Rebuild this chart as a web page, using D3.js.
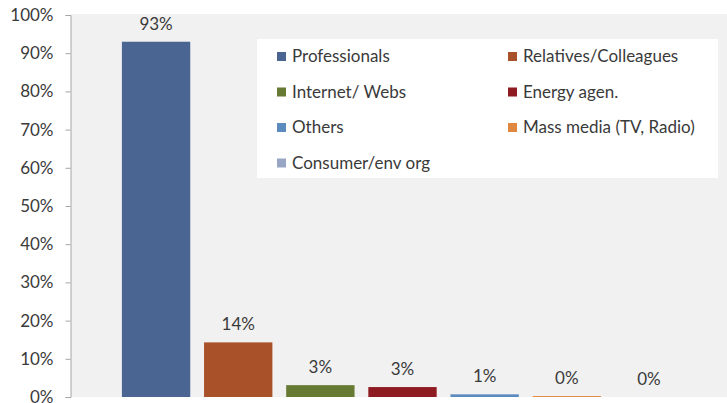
<!DOCTYPE html>
<html>
<head>
<meta charset="utf-8">
<script src="https://cdn.jsdelivr.net/npm/d3@7"></script>
<style>
  body { margin: 0; background: #fff; }
  svg { display: block; font-family: Lato, "Liberation Sans", sans-serif; }
</style>
</head>
<body>
<svg width="727" height="403"></svg>
<script>
// sources of information, share of respondents (%)
const categories = ['Professionals', 'Relatives/Colleagues', 'Internet/ Webs', 'Energy agen.', 'Others', 'Mass media (TV, Radio)', 'Consumer/env org']
const values = [93, 14.3, 3.1, 2.6, 0.7, 0.25, 0]
const colors = ['#4a6591', '#a9522a', '#677a33', '#8e1a22', '#5b8bbf', '#e0883f', '#97a6c4']
const yTicks = [0, 10, 20, 30, 40, 50, 60, 70, 80, 90, 100]

const svg = d3.select('svg')

// y=0 at top so the range goes from bottom to top
const yScale = d3.scaleLinear().domain([0, 100]).range([397, 15])
const xScale = d3.scaleBand().domain(categories).range([115, 690]).paddingInner(0.168).paddingOuter(0.084)

// plot background
svg.append('rect')
  .attr('x', 71).attr('y', 14)
  .attr('width', 727 - 71).attr('height', 397 - 14)
  .attr('fill', '#f1f1f1')

// y axis
const yAxis = d3.axisLeft(yScale)
  .tickValues(yTicks)
  .tickFormat(d => d + '%')
  .tickSize(5)
  .tickPadding(12)

const axisG = svg.append('g')
  .attr('transform', 'translate(70.5,0)')
  .call(yAxis)
axisG.select('.domain').attr('stroke', '#a6a6a6')
axisG.selectAll('.tick line').attr('stroke', '#a6a6a6')
axisG.selectAll('.tick text')
  .attr('fill', '#3a3a3a')
  .attr('font-size', 17)
  .attr('font-family', 'Lato, sans-serif')

// bars
svg.selectAll('.bar')
  .data(values)
  .enter()
  .append('rect')
  .classed('bar', true)
  .attr('x', (d, i) => xScale(categories[i]))
  .attr('y', d => yScale(d))
  .attr('width', xScale.bandwidth())
  .attr('height', d => yScale(0) - yScale(d))
  .attr('fill', (d, i) => colors[i])

// data labels
svg.selectAll('.lbl')
  .data(values)
  .enter()
  .append('text')
  .classed('lbl', true)
  .attr('x', (d, i) => xScale(categories[i]) + xScale.bandwidth() / 2)
  .attr('y', d => yScale(d) - 12)
  .attr('text-anchor', 'middle')
  .attr('font-size', 17)
  .attr('fill', '#3a3a3a')
  .text(d => Math.round(d) + '%')

// legend
const legend = svg.append('g')
legend.append('rect')
  .attr('x', 257).attr('y', 39)
  .attr('width', 461).attr('height', 139)
  .attr('fill', '#fff')

const items = legend.selectAll('.item')
  .data(categories)
  .enter()
  .append('g')
  .classed('item', true)
  .attr('transform', (d, i) => `translate(${i % 2 === 0 ? 277 : 508},${52 + Math.floor(i / 2) * 35.5})`)

items.append('rect')
  .attr('width', 9).attr('height', 9)
  .attr('fill', (d, i) => colors[i])

items.append('text')
  .attr('x', 15).attr('y', 10)
  .attr('font-size', 17)
  .attr('fill', '#3a3a3a')
  .text(d => d)
</script>
</body>
</html>
